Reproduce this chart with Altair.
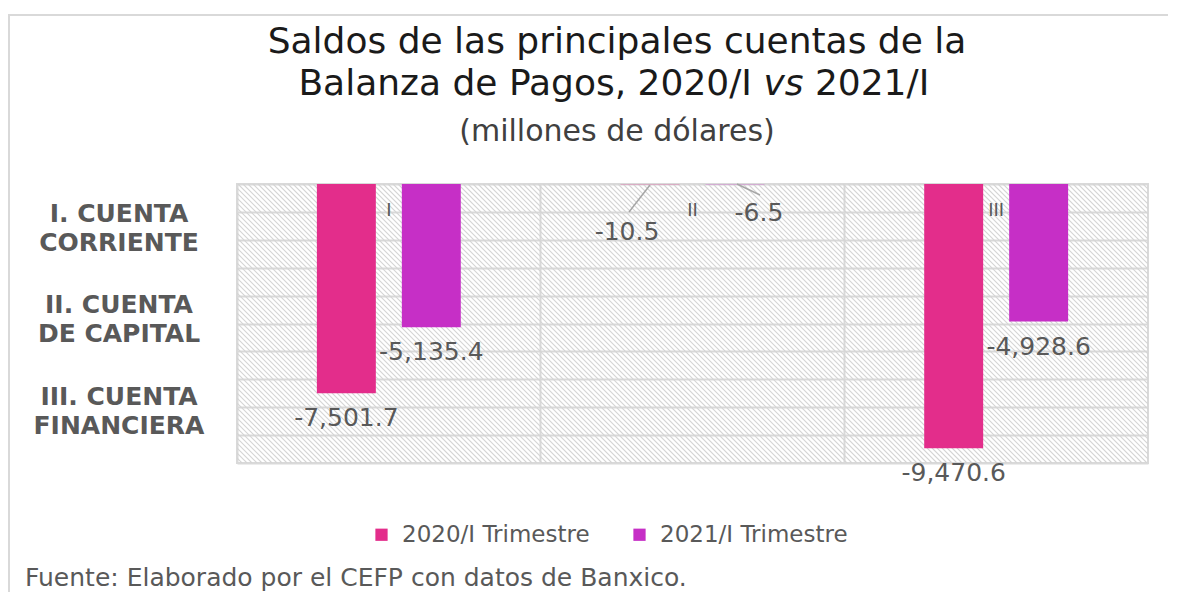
import altair as alt
import pandas as pd

# ---------------- data ----------------
cuentas = ["I", "II", "III"]
series = ["2020/I Trimestre", "2021/I Trimestre"]
valores_2020 = [-7501.7, -10.5, -9470.6]
valores_2021 = [-5135.4, -6.5, -4928.6]
nombres_cuenta = [["I. CUENTA", "CORRIENTE"], ["II. CUENTA", "DE CAPITAL"], ["III. CUENTA", "FINANCIERA"]]
colores = ["#E32D8B", "#C62FC6"]

titulo_1 = "Saldos de las principales cuentas de la"
titulo_2a = "Balanza de Pagos, 2020/I"
titulo_2b = "vs"
titulo_2c = "2021/I"
subtitulo = "(millones de dólares)"
fuente = "Fuente: Elaborado por el CEFP con datos de Banxico."

rows = []
for i, c in enumerate(cuentas):
    rows.append({"cuenta": c, "serie": series[0], "valor": valores_2020[i]})
    rows.append({"cuenta": c, "serie": series[1], "valor": valores_2021[i]})
df = pd.DataFrame(rows)
df_cat = pd.DataFrame({"cuenta": cuentas})

W, H = 911, 279
FONT = "DejaVu Sans"
GRAY = "#595959"
GRID = "#d9d9d9"

x_enc = alt.X("cuenta:N", sort=cuentas,
              scale=alt.Scale(paddingInner=0, paddingOuter=0),
              axis=alt.Axis(labels=False, ticks=False, domain=False, grid=True,
                            gridColor=GRID, gridWidth=2, bandPosition=0, title=None))
xo_enc = alt.XOffset("serie:N", sort=series,
                     scale=alt.Scale(paddingInner=0.306, paddingOuter=0.94))
y_enc = alt.Y("valor:Q", scale=alt.Scale(domain=[-10000, 0], nice=False, zero=False),
              axis=alt.Axis(labels=False, ticks=False, domain=False, grid=True,
                            gridColor=GRID, gridWidth=2, values=list(range(-10000, 1, 1000)),
                            title=None))

base = alt.Chart(df).transform_calculate(
    lbl="replace(format(datum.valor, ',.1f'), '\u2212', '-')"
)

bars = base.mark_bar().encode(
    x=x_enc, xOffset=xo_enc, y=y_enc,
    color=alt.Color("serie:N", sort=series,
                    scale=alt.Scale(domain=series, range=colores),
                    legend=alt.Legend(orient="none", legendX=133, legendY=339,
                                      direction="horizontal", title=None,
                                      symbolType="square", symbolSize=150,
                                      symbolStrokeWidth=0, labelFont=FONT,
                                      labelFontSize=23, labelColor=GRAY,
                                      labelOffset=9, columnPadding=38,
                                      labelLimit=400)),
)

lbl_main = base.transform_filter(alt.datum.cuenta != "II").mark_text(
    dy=25, baseline="middle", font=FONT, fontSize=25, color=GRAY
).encode(x=x_enc, xOffset=xo_enc, y=y_enc, text="lbl:N")

lbl_ii_a = base.transform_filter(
    (alt.datum.cuenta == "II") & (alt.datum.serie == series[0])
).mark_text(dx=-23, dy=48, baseline="middle", font=FONT, fontSize=25, color=GRAY
).encode(x=x_enc, xOffset=xo_enc, y=y_enc, text="lbl:N")

lbl_ii_b = base.transform_filter(
    (alt.datum.cuenta == "II") & (alt.datum.serie == series[1])
).mark_text(dx=24, dy=29, baseline="middle", font=FONT, fontSize=25, color=GRAY
).encode(x=x_enc, xOffset=xo_enc, y=y_enc, text="lbl:N")

cat_lbl = alt.Chart(df_cat).mark_text(
    baseline="middle", font=FONT, fontSize=18, color=GRAY
).encode(x=x_enc, y=alt.value(27), text="cuenta:N")

def rule(x1, y1, x2, y2, color, w):
    return alt.Chart(df_cat).transform_filter(alt.datum.cuenta == "I").mark_rule(
        color=color, strokeWidth=w, clip=False
    ).encode(x=alt.value(x1), y=alt.value(y1), x2=alt.value(x2), y2=alt.value(y2))

leader_a = rule(413, 1, 392, 28, "#a6a6a6", 1.5)
leader_b = rule(500, 0, 523, 11, "#a6a6a6", 1.5)

def txt(s, x, y, size, color="#262626", weight="normal", style="normal", align="center",
        baseline="alphabetic", line_height=None):
    kw = dict(align=align, baseline=baseline, font=FONT, fontSize=size, color=color,
              fontWeight=weight, fontStyle=style)
    if line_height:
        kw["lineHeight"] = line_height
        kw["lineBreak"] = "\n"
    return alt.Chart(df_cat).transform_filter(alt.datum.cuenta == "I").mark_text(**kw).encode(
        x=alt.value(x), y=alt.value(y), text=alt.value(s))

TS = 36
em = TS
w1 = 12.644 * em
wsp = 0.318 * em
wvs = 1.113 * em
w3 = 3.176 * em
total = w1 + wsp + wvs + wsp + w3
left = 376 - total / 2

TC = "#1a1a1a"
t1 = txt(titulo_1, 380, -131, TS, color=TC)
t2a = txt(titulo_2a, left + w1, -89, TS, color=TC, align="right")
t2b = txt(titulo_2b, left + w1 + wsp, -89, TS, color=TC, align="left", style="italic")
t2c = txt(titulo_2c, left + w1 + wsp + wvs + wsp, -89, TS, color=TC, align="left")
t3 = txt(subtitulo, 380, -43, 30, color="#404040")

left_lbls = [txt("\n".join(n), -118, 29.5 + i * 91.8, 25, color=GRAY, weight="bold",
                 baseline="middle", line_height=29)
             for i, n in enumerate(nombres_cuenta)]

foot = txt(fuente, -212, 402, 25, color=GRAY, align="left")

frame_top = rule(-229, -169, 943, -169, GRID, 2)
frame_left = rule(-228, -169, -228, 420, GRID, 2)

# hatch background texture
hatch = alt.Chart(alt.sequence(0, 240, as_="k")).transform_calculate(
    hx="datum.k * 5 - 279", hx2="datum.k * 5", hy="279", hy2="0"
).mark_rule(color="#d4d4d4", strokeWidth=1.1, clip=True).encode(
    x=alt.X("hx:Q", scale=alt.Scale(domain=[0, W], nice=False, zero=False), axis=None),
    x2="hx2:Q",
    y=alt.Y("hy:Q", scale=alt.Scale(domain=[0, H], nice=False, zero=False), axis=None),
    y2="hy2:Q",
)

main = alt.layer(bars, lbl_main, lbl_ii_a, lbl_ii_b, cat_lbl, leader_a, leader_b,
                 t1, t2a, t2b, t2c, t3, *left_lbls, foot, frame_top, frame_left)

chart = alt.layer(hatch, main).resolve_scale(x="independent", y="independent").properties(
    width=W, height=H,
    autosize=alt.AutoSizeParams(type="none"),
    padding={"left": 229, "top": 176, "right": 20, "bottom": 129},
    background="white",
).configure_view(stroke=GRID, strokeWidth=2)

chart.save("out.html", embed_options={"renderer": "svg", "actions": False})
